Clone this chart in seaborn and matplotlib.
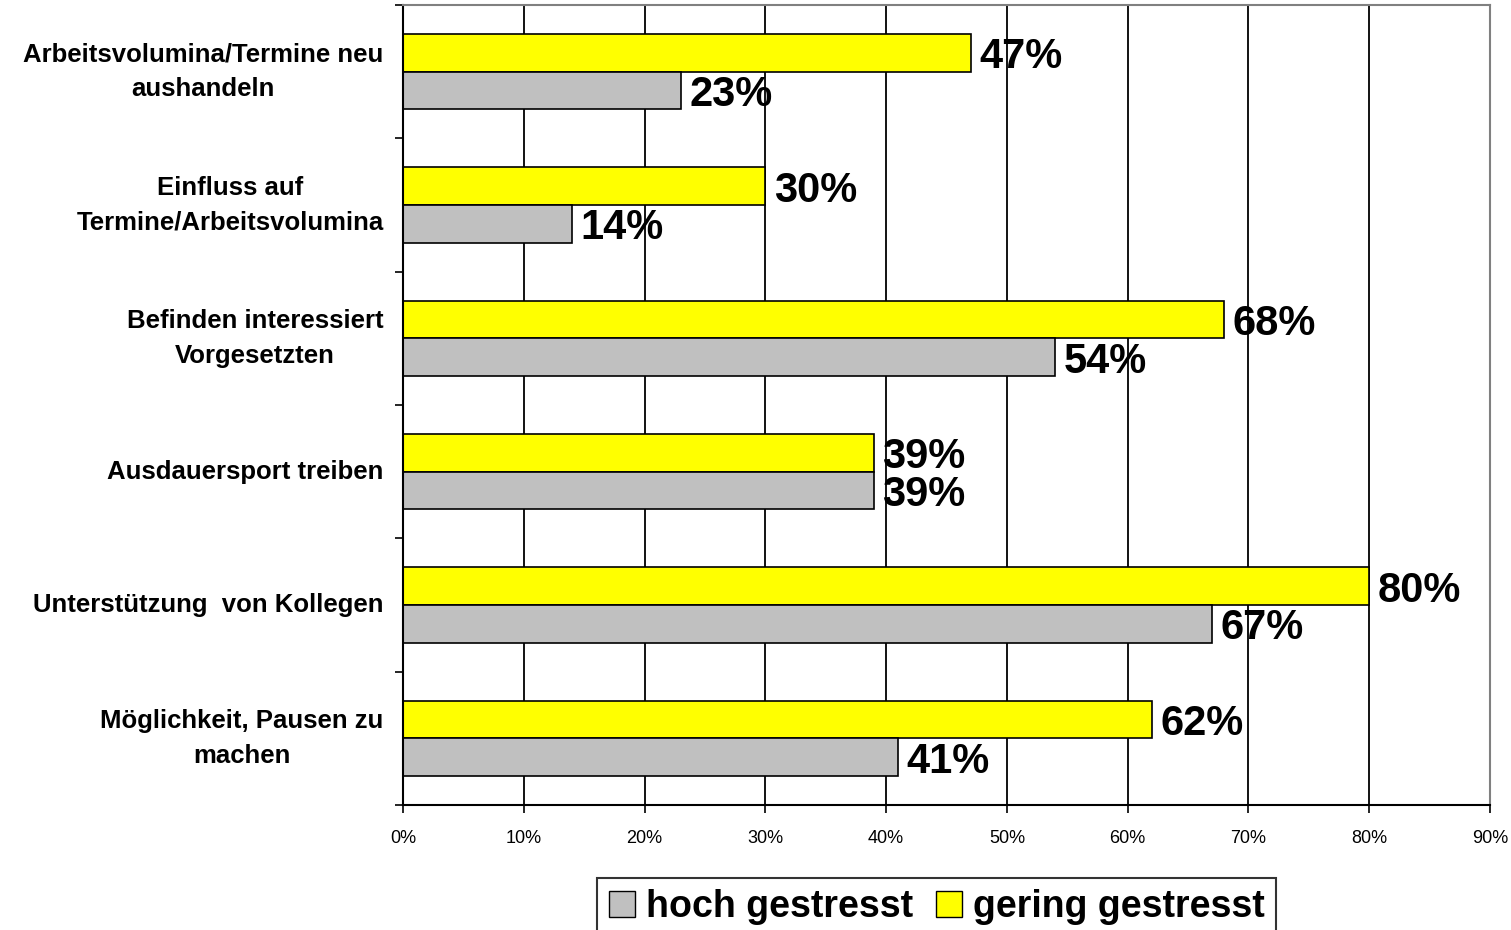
import matplotlib
matplotlib.use("Agg")
import matplotlib.pyplot as plt
import seaborn as sns
import pandas as pd
from matplotlib.patches import Patch

categories = [
    "Arbeitsvolumina/Termine neu\naushandeln",
    "Einfluss auf\nTermine/Arbeitsvolumina",
    "Befinden interessiert\nVorgesetzten",
    "Ausdauersport treiben",
    "Unterstützung  von Kollegen",
    "Möglichkeit, Pausen zu\nmachen",
]
hoch = [23, 14, 54, 39, 67, 41]
gering = [47, 30, 68, 39, 80, 62]
groups = ["gering gestresst", "hoch gestresst"]
colors = {"gering gestresst": "#FFFF00", "hoch gestresst": "#C0C0C0"}

df = pd.DataFrame({
    "Kategorie": categories * 2,
    "Wert": gering + hoch,
    "Gruppe": [groups[0]] * len(categories) + [groups[1]] * len(categories),
})

sns.set_theme(style="white")
plt.rcParams['font.family'] = ['Liberation Sans', 'DejaVu Sans']
plt.rcParams['text.color'] = 'black'
plt.rcParams['xtick.color'] = 'black'
plt.rcParams['ytick.color'] = 'black'

fig = plt.figure(figsize=(15.11, 9.30), dpi=100)
ax = fig.add_axes([0.2667, 0.1344, 0.7194, 0.8602])

sns.barplot(data=df, y="Kategorie", x="Wert", hue="Gruppe", hue_order=groups,
            order=categories, palette=colors, saturation=1, orient="h", width=0.565,
            edgecolor="black", linewidth=1.2, legend=False, ax=ax)

# value labels right of each bar
for cont in ax.containers:
    labels = ax.bar_label(cont, fmt="{:.0f}%", padding=6, fontsize=30,
                          fontweight="bold", color="black")
    for t in labels:
        t.set_va("center_baseline")

ax.set_xlim(0, 90)
ax.set_ylim(len(categories) - 0.5, -0.5)
ax.set_xticks(range(0, 91, 10))
ax.set_xticklabels([f"{v}%" for v in range(0, 91, 10)], fontsize=13)
ax.set_yticks(range(len(categories)))
ax.set_yticklabels(categories, fontsize=18.5, fontweight="bold", va="center",
                   multialignment="center", linespacing=1.55)
ax.set_yticks([i - 0.5 for i in range(len(categories) + 1)], minor=True)
ax.tick_params(axis="y", which="major", length=0, pad=14)
ax.tick_params(axis="y", which="minor", length=6, width=1.2, color="black", direction="out", left=True)
ax.tick_params(axis="x", length=6, width=1.2, color="black", direction="out", bottom=True, pad=12)
ax.set_xlabel("")
ax.set_ylabel("")

ax.grid(axis="x", color="black", linewidth=1.3)
ax.set_axisbelow(True)
for side in ["left", "bottom"]:
    ax.spines[side].set_color("black")
    ax.spines[side].set_linewidth(1.5)
for side in ["top", "right"]:
    ax.spines[side].set_color("#808080")
    ax.spines[side].set_linewidth(1.5)

handles = [Patch(facecolor=colors["hoch gestresst"], edgecolor="black", label="hoch gestresst"),
           Patch(facecolor=colors["gering gestresst"], edgecolor="black", label="gering gestresst")]
leg = fig.legend(handles=handles, loc="upper center", bbox_to_anchor=(0.62, 0.056), ncol=2,
                 prop={"size": 27, "weight": "bold"}, frameon=True, fancybox=False,
                 edgecolor="black", handlelength=0.7, handleheight=0.7,
                 handletextpad=0.3, columnspacing=0.6, borderpad=0.3)
leg.get_frame().set_linewidth(1.5)
leg.set_bbox_to_anchor((0.62, 0.056 + 0.02), transform=fig.transFigure)

fig.savefig("out.png", dpi=100)
